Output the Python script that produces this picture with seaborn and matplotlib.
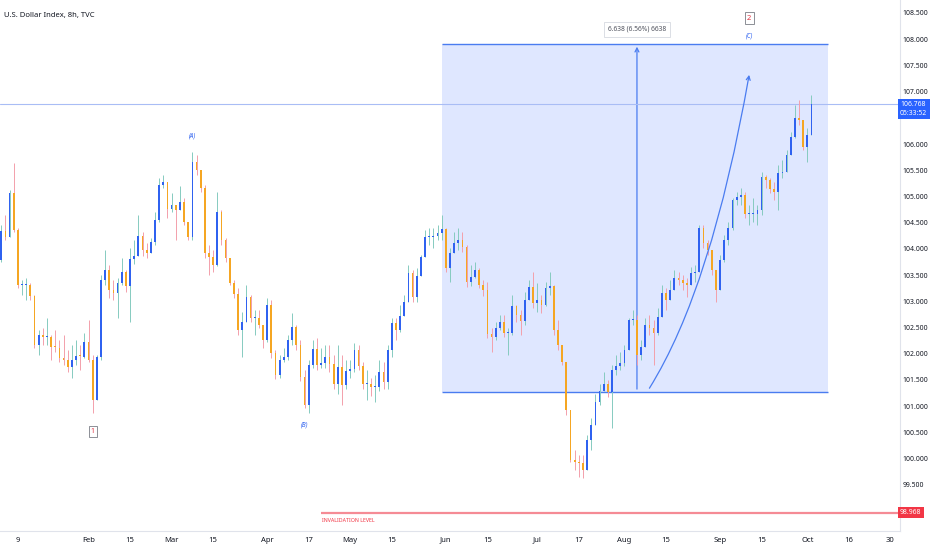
import pandas as pd
import matplotlib.pyplot as plt
import seaborn as sns
from matplotlib.patches import Rectangle, FancyArrowPatch
from matplotlib.path import Path
import matplotlib.transforms as mtransforms

sns.set_theme(style="white")
plt.rcParams["font.family"] = ["Noto Sans", "DejaVu Sans"]

# Daily OHLC (open = previous close)
first_open = 103.79
closes = [
    104.34, 104.23, 105.07, 104.36, 103.31, 103.31, 103.31, 103.10, 102.16, 102.36,
    102.32, 102.32, 102.13, 102.11, 101.92, 101.88, 101.74, 101.88, 101.95, 101.94,
    102.22, 101.88, 101.11, 101.94, 103.41, 103.60, 103.21, 103.16, 103.35, 103.56,
    103.29, 103.81, 103.86, 104.24, 103.98, 103.92, 104.13, 104.55, 105.22, 105.27,
    104.76, 104.84, 104.74, 104.89, 104.51, 104.23, 105.66, 105.50, 105.16, 103.92,
    103.84, 103.69, 104.70, 104.17, 103.82, 103.35, 103.14, 102.45, 102.60, 103.08,
    102.68, 102.68, 102.55, 102.26, 102.93, 102.01, 101.59, 101.88, 101.94, 102.26,
    102.51, 102.16, 101.55, 101.02, 101.78, 102.09, 101.78, 101.82, 101.94, 101.80,
    101.42, 101.74, 101.40, 101.67, 101.71, 102.07, 101.76, 101.42, 101.42, 101.36,
    101.36, 101.65, 101.46, 102.07, 102.58, 102.45, 102.72, 102.99, 103.54, 103.08,
    103.48, 103.84, 104.23, 104.23, 104.24, 104.30, 104.38, 103.63, 103.92, 104.11,
    104.17, 104.03, 103.37, 103.46, 103.60, 103.31, 103.21, 102.37, 102.32, 102.49,
    102.60, 102.39, 102.39, 102.91, 102.74, 102.62, 103.02, 103.27, 102.97, 103.02,
    102.93, 103.25, 103.29, 102.45, 102.16, 101.84, 100.92, 99.97, 99.93, 99.91,
    99.78, 100.35, 100.64, 101.07, 101.29, 101.42, 101.27, 101.69, 101.76, 101.82,
    102.07, 102.64, 102.64, 101.97, 102.13, 102.55, 102.49, 102.39, 102.70, 103.16,
    103.02, 103.21, 103.44, 103.41, 103.35, 103.31, 103.54, 103.56, 104.40, 104.11,
    103.98, 103.60, 103.21, 103.79, 104.17, 104.40, 104.93, 104.99, 105.03, 104.66,
    104.66, 104.66, 104.74, 105.37, 105.31, 105.14, 105.08, 105.45, 105.47, 105.79,
    106.13, 106.50, 106.46, 105.94, 106.17, 106.768,
]
highs = [
    104.45, 104.64, 105.12, 105.64, 104.40, 103.41, 103.44, 103.35, 103.12, 102.45,
    102.49, 102.68, 102.36, 102.45, 102.26, 102.36, 102.07, 102.16, 102.26, 102.16,
    102.39, 102.64, 101.97, 101.97, 103.50, 103.98, 103.69, 103.41, 103.44, 103.82,
    103.60, 104.02, 104.17, 104.64, 104.32, 104.11, 104.21, 104.70, 105.35, 105.41,
    105.27, 105.07, 104.84, 105.20, 104.97, 104.45, 105.85, 105.79, 105.50, 105.22,
    104.07, 103.98, 105.08, 104.74, 104.21, 103.82, 103.41, 103.25, 102.79, 103.31,
    103.12, 102.83, 102.83, 102.55, 103.06, 103.02, 102.07, 101.97, 102.11, 102.36,
    102.77, 102.55, 102.26, 101.69, 101.88, 102.26, 102.30, 102.11, 102.16, 102.16,
    101.97, 102.16, 101.97, 101.88, 101.88, 102.20, 102.16, 101.84, 101.69, 101.53,
    101.59, 101.88, 101.84, 102.16, 102.68, 102.68, 102.93, 103.12, 103.69, 103.60,
    103.63, 103.88, 104.36, 104.40, 104.40, 104.45, 104.64, 104.40, 104.02, 104.32,
    104.40, 104.32, 104.07, 103.69, 103.75, 103.63, 103.41, 103.37, 102.49, 102.60,
    102.74, 102.74, 102.49, 103.12, 102.93, 102.83, 103.18, 103.41, 103.56, 103.35,
    103.12, 103.37, 103.56, 103.31, 102.64, 102.16, 101.78, 100.92, 100.16, 100.07,
    100.07, 100.45, 100.77, 101.23, 101.42, 101.65, 101.50, 101.78, 101.97, 102.03,
    102.16, 102.68, 102.83, 102.74, 102.26, 102.68, 102.74, 102.64, 102.87, 103.31,
    103.25, 103.41, 103.60, 103.56, 103.50, 103.44, 103.65, 103.69, 104.45, 104.45,
    104.17, 103.98, 103.60, 103.88, 104.26, 104.51, 104.97, 105.08, 105.16, 105.08,
    104.84, 104.97, 104.84, 105.47, 105.41, 105.35, 105.27, 105.60, 105.70, 105.89,
    106.23, 106.74, 106.84, 106.46, 106.31, 106.94,
]
lows = [
    103.75, 104.17, 104.23, 104.32, 103.25, 103.12, 103.02, 103.02, 102.11, 101.97,
    102.16, 102.16, 101.88, 102.03, 101.84, 101.78, 101.65, 101.53, 101.78, 101.69,
    101.92, 101.84, 100.87, 101.23, 101.88, 103.31, 103.06, 103.02, 102.68, 103.31,
    103.18, 102.60, 103.71, 103.88, 103.86, 103.82, 103.98, 104.07, 104.51, 105.16,
    104.59, 104.70, 104.17, 104.78, 104.45, 104.17, 104.17, 105.41, 105.08, 103.82,
    103.50, 103.56, 103.67, 104.07, 103.75, 103.31, 103.06, 102.36, 101.94, 102.68,
    102.60, 102.36, 102.49, 102.11, 102.22, 101.92, 101.52, 101.53, 101.84, 101.88,
    102.16, 102.07, 101.48, 100.96, 100.87, 101.73, 101.69, 101.73, 101.73, 101.65,
    101.33, 101.23, 101.02, 101.33, 101.53, 101.65, 101.69, 101.33, 101.11, 101.19,
    101.07, 101.29, 101.33, 101.33, 101.94, 102.26, 102.41, 102.72, 103.18, 102.99,
    102.99, 103.50, 103.98, 104.07, 104.02, 104.17, 104.17, 103.56, 103.37, 103.98,
    103.98, 103.94, 103.27, 103.29, 103.44, 103.25, 103.10, 102.30, 102.03, 102.26,
    102.45, 102.32, 101.97, 102.36, 102.60, 102.36, 102.55, 103.02, 102.87, 102.79,
    102.77, 102.91, 103.12, 102.36, 102.07, 101.78, 100.83, 99.93, 99.78, 99.65,
    99.63, 99.78, 100.16, 100.64, 101.02, 101.29, 101.17, 100.58, 101.59, 101.69,
    101.76, 102.07, 102.55, 101.78, 101.88, 102.16, 102.36, 101.78, 102.36, 102.79,
    102.83, 103.06, 103.21, 103.31, 103.21, 103.08, 103.35, 103.37, 103.60, 104.02,
    103.88, 103.50, 102.99, 103.31, 103.75, 104.07, 104.36, 104.84, 104.84, 104.59,
    104.45, 104.51, 104.45, 104.64, 105.16, 105.07, 104.93, 104.74, 105.35, 105.47,
    105.89, 106.12, 106.36, 105.89, 105.66, 106.17,
]
last_price = 106.768
invalidation = 98.968
measure_low, measure_high = 101.27, 107.91
tick_dates = ["2023-01-09", "2023-02-01", "2023-02-15", "2023-03-01", "2023-03-15",
              "2023-04-03", "2023-04-17", "2023-05-01", "2023-05-15", "2023-06-01",
              "2023-06-15", "2023-07-03", "2023-07-17", "2023-08-01", "2023-08-15",
              "2023-09-01", "2023-09-15", "2023-10-02", "2023-10-16", "2023-10-30"]
tick_labels = ["9", "Feb", "15", "Mar", "15", "Apr", "17", "May", "15", "Jun",
               "15", "Jul", "17", "Aug", "15", "Sep", "15", "Oct", "16", "30"]

# bar index for every business day (incl. future space to the right)
days = pd.bdate_range("2023-01-03", "2023-11-10")
pos = {d: i for i, d in enumerate(days)}
def bx(date):
    return pos[pd.Timestamp(date)]

df = pd.DataFrame({"close": closes, "high": highs, "low": lows})
df["date"] = days[: len(df)]
df["open"] = [first_open] + closes[:-1]
df["idx"] = range(len(df))
df["up"] = df["close"] >= df["open"]
df["high"] = df[["high", "open", "close"]].max(axis=1)
df["low"] = df[["low", "open", "close"]].min(axis=1)

UP, DOWN = "#2f62f0", "#f5a623"
UP_WICK, DOWN_WICK = "#86cbc0", "#f3a0ab"
BLUE = "#4a7cf0"

fig = plt.figure(figsize=(9.32, 5.5), dpi=100)
ax = fig.add_axes([0, 19 / 550, 900 / 932, 531 / 550])

# long/short measurement box
x0, x1 = bx("2023-05-31"), bx("2023-10-09")
ax.add_patch(Rectangle((x0, measure_low), x1 - x0, measure_high - measure_low,
                       facecolor="#2962ff", alpha=0.15, edgecolor="none", zorder=0))
ax.hlines([measure_low, measure_high], x0, x1, color=BLUE, lw=1.0, zorder=1)
xm = bx("2023-08-04")
ax.add_patch(FancyArrowPatch((xm, measure_low), (xm, measure_high), arrowstyle="->",
                             mutation_scale=7, color=BLUE, lw=0.9, zorder=1))
ax.text(xm, 108.19, "6.638 (6.56%) 6638", ha="center", va="center", fontsize=4.8,
        color="#50535e", zorder=5,
        bbox=dict(boxstyle="square,pad=0.6", fc="white", ec="#d6d9e0", lw=0.6))

# last price line
ax.axhline(last_price, color="#a9bdf5", lw=0.8, zorder=1)

# candles
wick_colors = [UP_WICK if u else DOWN_WICK for u in df["up"]]
body_colors = [UP if u else DOWN for u in df["up"]]
ax.vlines(df["idx"], df["low"], df["high"], colors=wick_colors, lw=0.7, zorder=2)
heights = (df["close"] - df["open"]).where((df["close"] - df["open"]).abs() > 0.02, 0.02)
ax.bar(df["idx"], heights, bottom=df["open"], width=0.42, color=body_colors,
       linewidth=0, zorder=3)

# projected curve
curve = Path([(bx("2023-08-09"), 101.34), (bx("2023-08-30"), 103.25), (bx("2023-09-12"), 107.32)],
             [Path.MOVETO, Path.CURVE3, Path.CURVE3])
ax.add_patch(FancyArrowPatch(path=curve, arrowstyle="->", mutation_scale=7,
                             color=BLUE, lw=0.9, zorder=4))

# wave labels
lab = dict(ha="center", va="center", fontsize=4.5, color="#2f62f0", style="italic")
ax.text(bx("2023-03-08"), 106.15, "(A)", **lab)
ax.text(bx("2023-04-14"), 100.64, "(B)", **lab)
ax.text(bx("2023-09-12"), 108.06, "(C)", **lab)
box = dict(boxstyle="square,pad=0.3", fc="white", ec="#7a7d86", lw=0.6)
ax.text(bx("2023-02-02"), 100.52, "1", ha="center", va="center", fontsize=5,
        color="#e03040", bbox=box)
ax.text(bx("2023-09-12"), 108.40, "2", ha="center", va="center", fontsize=5.5,
        color="#e03040", bbox=box)

# invalidation level
ax.hlines(invalidation, bx("2023-04-20"), 230, color="#f58b95", lw=1.6, zorder=2)
ax.text(bx("2023-04-20") + 0.3, 98.81, "INVALIDATION LEVEL", ha="left", va="center",
        fontsize=3.8, color="#f23645")

ax.set_xlim(-0.3, 900 / 4.155 - 0.3)
ax.set_ylim(98.615, 108.748)

# axes styling
for s in ["top", "left"]:
    ax.spines[s].set_visible(False)
for s in ["right", "bottom"]:
    ax.spines[s].set_color("#e0e3eb")
    ax.spines[s].set_linewidth(0.8)
ax.grid(False)
ax.yaxis.tick_right()
yt = [v / 2 for v in range(199, 218) if v / 2 not in (106.5, 99.0)]
ax.set_yticks(yt)
ax.set_yticklabels([f"{v:.3f}" for v in yt])
ax.set_xticks([bx(d) for d in tick_dates])
ax.set_xticklabels(tick_labels)
ax.tick_params(axis="y", length=0, pad=2, labelsize=4.9, colors="#131722")
ax.tick_params(axis="x", length=0, pad=4, labelsize=5.5, colors="#131722")

# price scale labels
trans = mtransforms.blended_transform_factory(ax.transAxes, ax.transData)
ax.text(1.0, last_price - 0.1, "106.768\n05:33:52", transform=trans, ha="left",
        va="center", fontsize=4.9, color="white", linespacing=1.3, clip_on=False,
        bbox=dict(boxstyle="square,pad=0.35", fc="#2962ff", ec="none"))
ax.text(1.0, invalidation, "98.968", transform=trans, ha="left", va="center",
        fontsize=4.9, color="white", clip_on=False,
        bbox=dict(boxstyle="square,pad=0.35", fc="#f23645", ec="none"))

fig.text(4 / 932, 1 - 15 / 550, "U.S. Dollar Index, 8h, TVC", fontsize=5.5,
         color="#131722", va="center")

fig.savefig("out.png", dpi=100)
